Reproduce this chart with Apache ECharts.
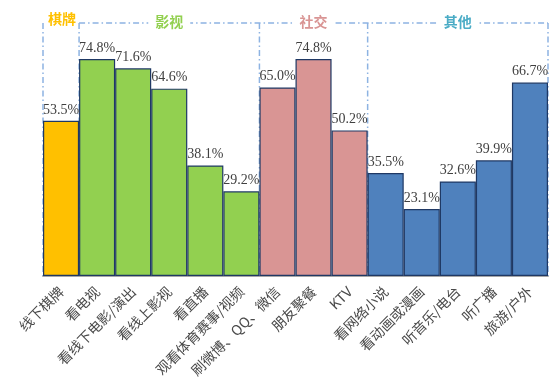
<!DOCTYPE html>
<html><head><meta charset="utf-8">
<script src="https://cdn.jsdelivr.net/npm/echarts@6/dist/echarts.min.js"></script>
<style>html,body{margin:0;padding:0;background:#fff}#c{width:558px;height:386px}</style>
</head><body><div id="c"></div>
<script>
const categories = ['线下棋牌','看电视','看线下电影/演出','看线上影视','看直播','观看体育赛事/视频','刷微博、QQ、微信','朋友聚餐','KTV','看网络小说','看动画或漫画','听音乐/电台','听广播','旅游/户外'];
const values = [53.5,74.8,71.6,64.6,38.1,29.2,65.0,74.8,50.2,35.5,23.1,32.6,39.9,66.7];
const groupNames = ['棋牌','影视','社交','其他'];
const groupSizes = [1,5,3,5];
const groupColors = ['#ffc000','#92d050','#d99594','#4f81bd'];
const groupTextColors = ['#ffc000','#92d050','#d99594','#4bacc6'];

const barColors = [];
groupSizes.forEach((n,g)=>{for(let i=0;i<n;i++)barColors.push(groupColors[g]);});

const chart = echarts.init(document.getElementById('c'));
const option = {
  animation:false,
  grid:{left:43,right:10,top:44,bottom:110},
  xAxis:{type:'category',data:categories,
    axisLine:{lineStyle:{color:'#a6a6a6',width:2}},axisTick:{show:false},
    axisLabel:{rotate:45,interval:0,margin:13,fontSize:14,color:'#4a4a4a',fontFamily:'Noto Sans CJK SC'}},
  yAxis:{type:'value',min:0,max:80,show:false,splitLine:{show:false}},
  series:[{type:'bar',barCategoryGap:0,z:3,
    data:values.map((v,i)=>({value:v,itemStyle:{color:barColors[i]}})),
    itemStyle:{borderColor:'#1f3864',borderWidth:1.2},
    label:{show:true,position:[0,-4],align:'left',verticalAlign:'bottom',
      fontFamily:'Liberation Serif',fontSize:14,color:'#404040',
      formatter:p=>p.value.toFixed(1)+'%'}}]
};
chart.setOption(option);

// decorations: group brackets
const lineTop = 23;
const base = chart.convertToPixel({yAxisIndex:0},0);
const bounds = [];
let idx = 0;
const half = (chart.convertToPixel({xAxisIndex:0},1)-chart.convertToPixel({xAxisIndex:0},0))/2;
bounds.push(chart.convertToPixel({xAxisIndex:0},0)-half);
groupSizes.forEach(n=>{idx+=n;bounds.push(chart.convertToPixel({xAxisIndex:0},idx-1)+half);});
const dashStyle = {stroke:'#8db3e2',lineWidth:1.5,lineDash:[6,3,1.5,3]};
const graphics = [];
bounds.forEach(x=>{
  graphics.push({type:'line',z:1,shape:{x1:x,y1:lineTop,x2:x,y2:base},style:dashStyle});
});
graphics.push({type:'line',z:1,shape:{x1:bounds[1],y1:lineTop,x2:bounds[bounds.length-1],y2:lineTop},style:dashStyle});
groupNames.forEach((name,g)=>{
  const cx=(bounds[g]+bounds[g+1])/2;
  graphics.push({type:'text',z:2,x:cx+(g===0?1:0),y:g===0?19:22,style:{text:name,fill:groupTextColors[g],
    font:'bold 14px "Noto Sans CJK SC"',textAlign:'center',textVerticalAlign:'middle',
    backgroundColor:g===0?'transparent':'#fff',padding:[0,7]}});
});
chart.setOption({graphic:graphics});
</script></body></html>
